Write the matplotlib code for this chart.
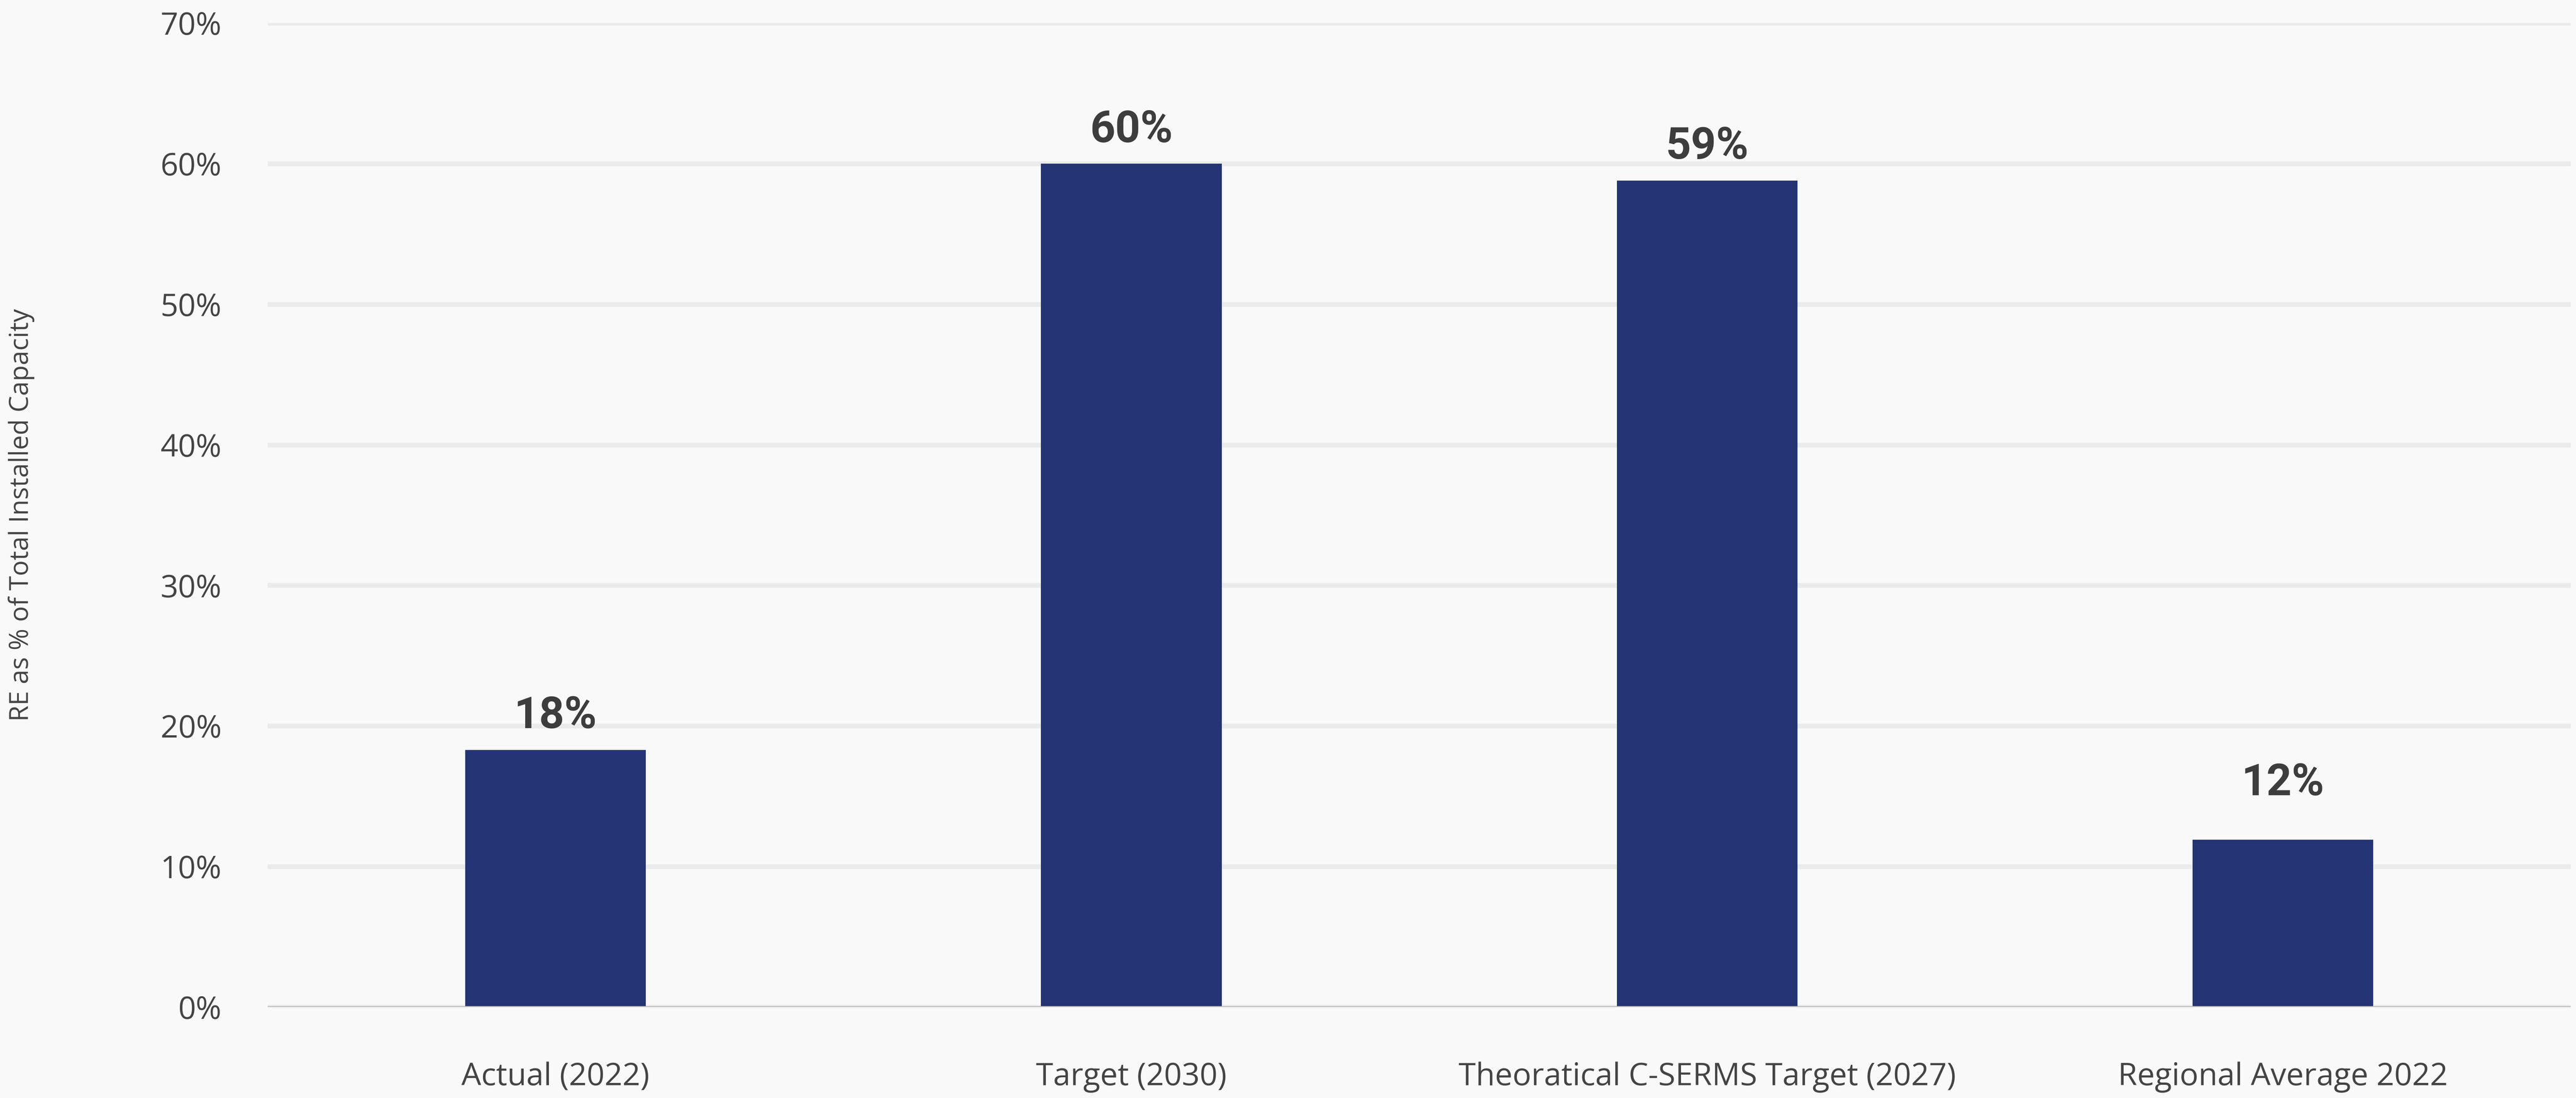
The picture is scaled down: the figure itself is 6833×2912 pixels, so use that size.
import matplotlib.pyplot as plt
from matplotlib.ticker import FuncFormatter

# RE share of total installed capacity
categories = ["Actual (2022)", "Target (2030)", "Theoratical C-SERMS Target (2027)", "Regional Average 2022"]
values = [18.3, 60.0, 58.8, 11.9]
labels = ["18%", "60%", "59%", "12%"]

navy = "#243474"
bg = "#f9f9f9"

fig = plt.figure(figsize=(6833 / 400, 2912 / 400), dpi=400, facecolor=bg)
ax = fig.add_axes([0.1039, 0.0828, 0.8941, 0.8962], facecolor=bg)

x = range(len(categories))
bars = ax.bar(x, values, width=0.314, color=navy, zorder=3)

# value labels, the last one sits a bit higher above its bar
offsets = [6, 6, 6, 17]
for b, lab, off in zip(bars, labels, offsets):
    ax.annotate(lab, (b.get_x() + b.get_width() / 2, b.get_height()),
                xytext=(0, off), textcoords="offset points",
                ha="center", va="bottom", fontsize=21, fontweight="bold",
                color="#3d3d3d", family=["Roboto", "DejaVu Sans"])

ax.set_xlim(-0.5, len(categories) - 0.5)
ax.set_ylim(0, 70)
ax.set_yticks(range(0, 71, 10))
ax.yaxis.set_major_formatter(FuncFormatter(lambda v, p: f"{int(v)}%"))
ax.set_xticks(list(x))
ax.set_xticklabels(categories)

ax.grid(axis="y", color="#ebebeb", linewidth=2.3, zorder=0)
ax.axhline(0, color="#c0c0c0", linewidth=1.0, zorder=4)
for s in ax.spines.values():
    s.set_visible(False)

ax.tick_params(axis="both", length=0, labelcolor="#444444")
ax.tick_params(axis="y", pad=22, labelsize=14.8)
ax.tick_params(axis="x", pad=26, labelsize=14.9)
for t in ax.get_xticklabels() + ax.get_yticklabels():
    t.set_family(["Open Sans", "DejaVu Sans"])

fig.text(0.0083, 0.531, "RE as % of Total Installed Capacity", rotation=90,
         ha="center", va="center", fontsize=12.5, color="#444444",
         family=["Open Sans", "DejaVu Sans"])

fig.savefig("out.png", dpi=400, facecolor=bg)
